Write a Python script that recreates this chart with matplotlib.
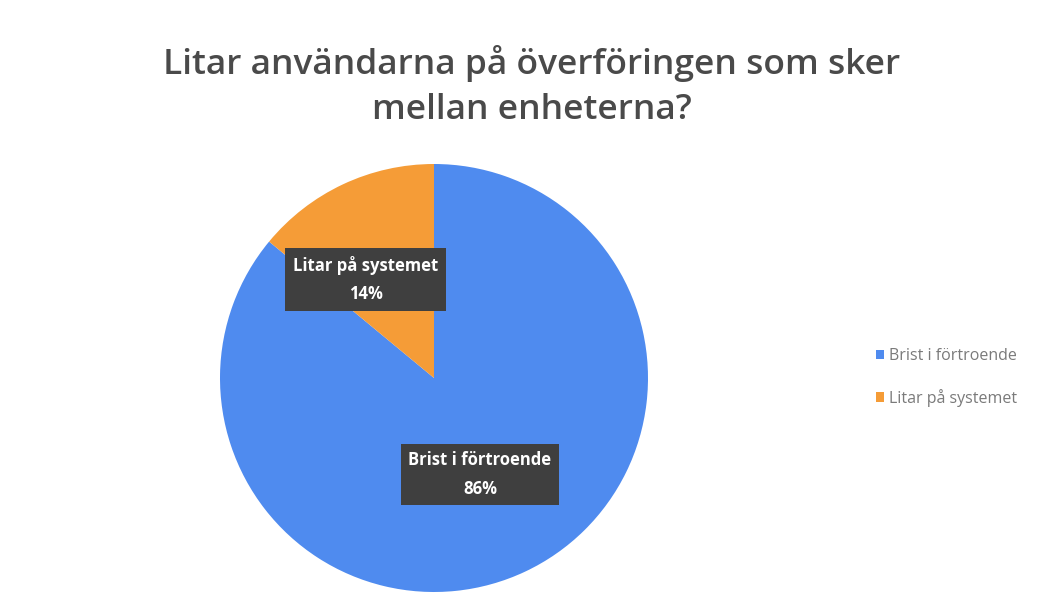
import matplotlib.pyplot as plt

# Data
labels = ['Brist i förtroende', 'Litar på systemet']
shares = [86, 14]
colors = ['#4f8bef', '#f59c37']
title = 'Litar användarna på överföringen som sker\nmellan enheterna?'

plt.rcParams['font.family'] = ['Open Sans', 'DejaVu Sans']

fig = plt.figure(figsize=(10.44, 6.08), dpi=100)
fig.patch.set_facecolor('white')

W, H = 1044, 608
cx, cy, r = 434, 378, 214
ax = fig.add_axes([(cx - r) / W, 1 - (cy + r) / H, 2 * r / W, 2 * r / H])

wedges, _ = ax.pie(shares, colors=colors, startangle=90, counterclock=False,
                   radius=1.0, wedgeprops=dict(linewidth=0))
ax.set_xlim(-1, 1)
ax.set_ylim(-1, 1)
ax.set_aspect('equal')

# data label positions (in data coords of the pie axes)
label_pos = [(0.215, -0.45), (-0.32, 0.46)]
for lab, val, (x, y) in zip(labels, shares, label_pos):
    ax.text(x, y, f'{lab}\n{val}%', ha='center', va='center', color='white',
            fontsize=12, fontweight='bold', linespacing=1.75,
            bbox=dict(boxstyle='square,pad=0.45', facecolor='#3f3f3f',
                      edgecolor='none'))

fig.text(0.509, 0.858, title, ha='center', va='center', fontsize=25.5,
         fontweight='semibold', color='#4a4a4a', linespacing=1.42)

leg = fig.legend(wedges, labels, loc='center left', bbox_to_anchor=(0.825, 0.379),
                 frameon=False, fontsize=11.5, handlelength=0.55, handleheight=0.55,
                 handletextpad=0.3, labelspacing=1.55)
for t in leg.get_texts():
    t.set_color('#7a7a7a')

fig.savefig('out.png', dpi=100, facecolor='white')
